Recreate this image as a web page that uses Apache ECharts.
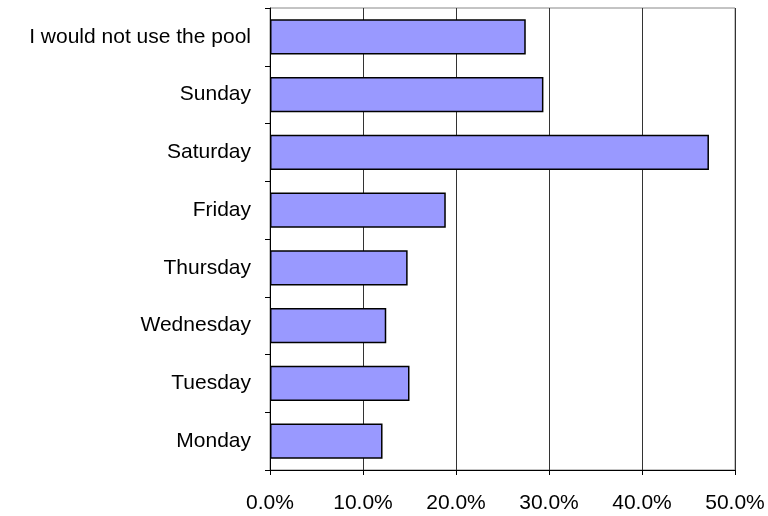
<!DOCTYPE html>
<html>
<head>
<meta charset="utf-8">
<script src="https://cdn.jsdelivr.net/npm/echarts@6/dist/echarts.min.js"></script>
<style>
html, body { margin: 0; padding: 0; background: #fff; }
#chart { width: 768px; height: 516px; }
</style>
</head>
<body>
<div id="chart"></div>
<script>
var categories = ['Monday', 'Tuesday', 'Wednesday', 'Thursday', 'Friday', 'Saturday', 'Sunday', 'I would not use the pool'];
var shares = [0.121, 0.150, 0.125, 0.148, 0.189, 0.472, 0.294, 0.275];
var xTicks = [0, 0.1, 0.2, 0.3, 0.4, 0.5];

var chart = echarts.init(document.getElementById('chart'));

var option = {
    backgroundColor: '#ffffff',
    animation: false,
    textStyle: { fontFamily: 'Liberation Sans, Arial, sans-serif' },
    grid: {
        left: 270,
        right: 33,
        top: 8,
        bottom: 46,
        show: true,
        borderColor: '#888888',
        borderWidth: 1
    },
    xAxis: {
        type: 'value',
        min: xTicks[0],
        max: xTicks[xTicks.length - 1],
        interval: 0.1,
        axisLine: { show: true, lineStyle: { color: '#000', width: 1 } },
        axisTick: { show: true, length: 5, lineStyle: { color: '#000' } },
        axisLabel: {
            color: '#000',
            fontSize: 21,
            margin: 23,
            formatter: function (v) { return (v * 100).toFixed(1) + '%'; }
        },
        splitLine: { show: true, lineStyle: { color: '#333333', width: 1 } }
    },
    yAxis: {
        type: 'category',
        data: categories,
        axisLine: { show: true, lineStyle: { color: '#000', width: 1 } },
        axisTick: { show: true, length: 5, alignWithLabel: false, lineStyle: { color: '#000' } },
        axisLabel: { color: '#000', fontSize: 21, margin: 19 },
        splitLine: { show: false }
    },
    series: [{
        type: 'bar',
        data: shares,
        barCategoryGap: '39%',
        itemStyle: {
            color: '#9999ff',
            borderColor: '#000000',
            borderWidth: 1.5
        }
    }]
};

chart.setOption(option);
</script>
</body>
</html>
